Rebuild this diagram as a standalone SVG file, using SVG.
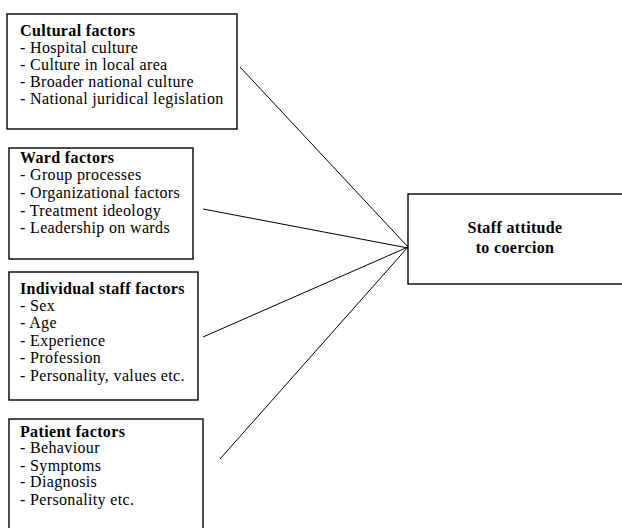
<svg xmlns="http://www.w3.org/2000/svg" width="622" height="528" viewBox="0 0 622 528">
<style>
.box{fill:#fff;stroke:#000;stroke-width:1.4}
.t{font-family:"Liberation Serif","Times New Roman",serif;font-size:16px;letter-spacing:0.35px;fill:#000}
.b{font-weight:bold}
.c{stroke:#000;stroke-width:1;fill:none}
</style>
<rect width="622" height="528" fill="#fff"/>
<g id="connectors">
<line class="c" x1="240" y1="67" x2="408" y2="247"/>
<line class="c" x1="203" y1="209" x2="408" y2="248"/>
<line class="c" x1="203" y1="337" x2="408" y2="247"/>
<line class="c" x1="220" y1="459" x2="408" y2="247"/>
</g>
<g id="cultural">
<rect class="box" x="7" y="14" width="230" height="115"/>
<text class="t b" x="20" y="36">Cultural factors</text>
<text class="t" x="20" y="53">- Hospital culture</text>
<text class="t" x="20" y="70">- Culture in local area</text>
<text class="t" x="20" y="87">- Broader national culture</text>
<text class="t" x="20" y="104">- National juridical legislation</text>
</g>
<g id="ward">
<rect class="box" x="9" y="148" width="184" height="111"/>
<text class="t b" x="20" y="163">Ward factors</text>
<text class="t" x="20" y="180">- Group processes</text>
<text class="t" x="20" y="198">- Organizational factors</text>
<text class="t" x="20" y="216">- Treatment ideology</text>
<text class="t" x="20" y="233">- Leadership on wards</text>
</g>
<g id="individual">
<rect class="box" x="9" y="272" width="189" height="128"/>
<text class="t b" x="20" y="294">Individual staff factors</text>
<text class="t" x="20" y="311">- Sex</text>
<text class="t" x="20" y="328">- Age</text>
<text class="t" x="20" y="346">- Experience</text>
<text class="t" x="20" y="363">- Profession</text>
<text class="t" x="20" y="381">- Personality, values etc.</text>
</g>
<g id="patient">
<rect class="box" x="9" y="419" width="194" height="112"/>
<text class="t b" x="20" y="437">Patient factors</text>
<text class="t" x="20" y="453">- Behaviour</text>
<text class="t" x="20" y="471">- Symptoms</text>
<text class="t" x="20" y="487">- Diagnosis</text>
<text class="t" x="20" y="505">- Personality etc.</text>
</g>
<g id="outcome">
<rect class="box" x="408" y="194" width="220" height="90"/>
<text class="t b" x="515" y="233" text-anchor="middle">Staff attitude</text>
<text class="t b" x="515" y="253" text-anchor="middle">to coercion</text>
</g>
</svg>
